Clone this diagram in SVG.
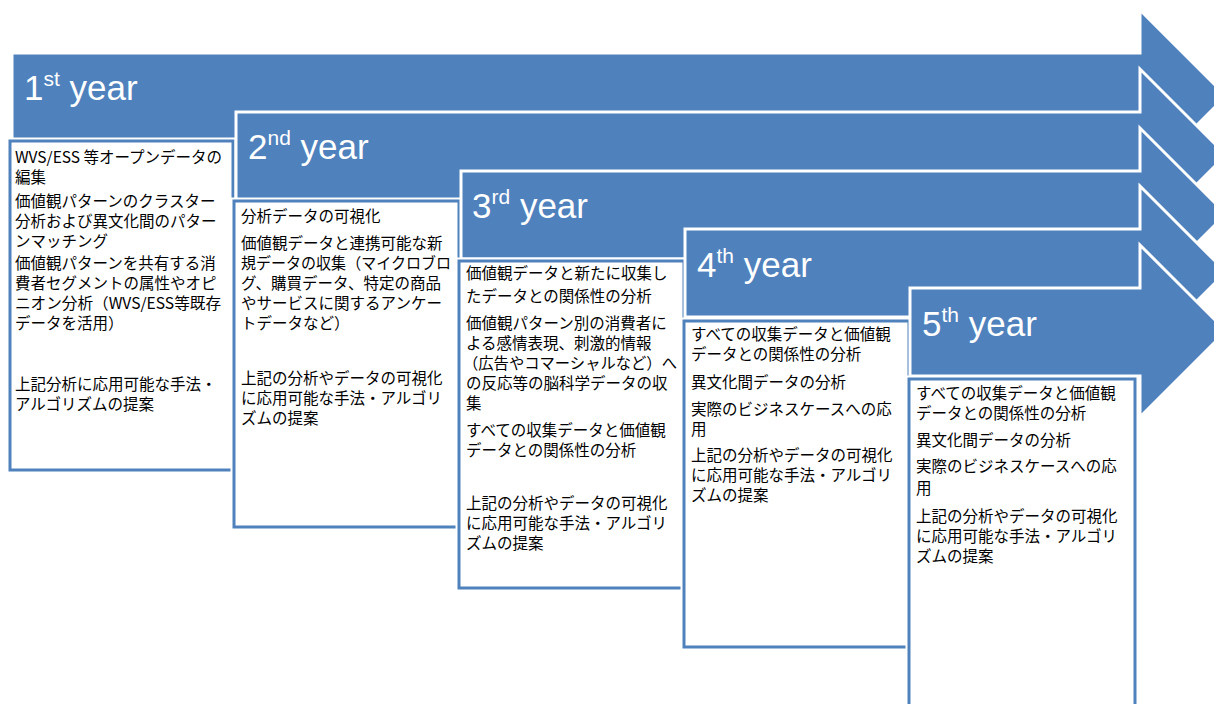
<svg xmlns="http://www.w3.org/2000/svg" width="1214" height="704" viewBox="0 0 1214 704">
<style>
.arr{fill:#4F81BD;stroke:#fff;stroke-width:3;stroke-linejoin:miter}
.boxo{fill:none;stroke:#fff;stroke-width:7}
.box{fill:#fff;stroke:#4F81BD;stroke-width:3}
.hd{font-family:"Liberation Sans",Arial,sans-serif;font-size:35px;fill:#fff}
.sup{font-size:21px}
.bt{font-family:"Noto Sans CJK JP","Noto Sans",sans-serif;font-size:15.5px;fill:#000}
</style>
<rect width="1214" height="704" fill="#fff"/>
<g id="year1">
<path class="arr" d="M12,53 H1140 V10 L1226,96 L1140,182 V141 H12 Z"/>
<rect class="boxo" x="10" y="141" width="223" height="329"/>
<rect class="box" x="10" y="141" width="223" height="329"/>
<text class="hd" x="24" y="100">1<tspan class="sup" dy="-14">st</tspan><tspan dy="14"> year</tspan></text>
<text class="bt" x="15">
<tspan x="15" y="163">WVS/ESS 等オープンデータの</tspan>
<tspan x="15" y="183">編集</tspan>
<tspan x="15" y="207">価値観パターンのクラスター</tspan>
<tspan x="15" y="227">分析および異文化間のパター</tspan>
<tspan x="15" y="247">ンマッチング</tspan>
<tspan x="15" y="269">価値観パターンを共有する消</tspan>
<tspan x="15" y="289">費者セグメントの属性やオピ</tspan>
<tspan x="15" y="309" textLength="206" lengthAdjust="spacingAndGlyphs">ニオン分析（WVS/ESS等既存</tspan>
<tspan x="15" y="329">データを活用）</tspan>
<tspan x="15" y="390">上記分析に応用可能な手法・</tspan>
<tspan x="15" y="410">アルゴリズムの提案</tspan>
</text>
</g>
<g id="year2">
<path class="arr" d="M236,112 H1140 V69 L1226,155 L1140,241 V200 H236 Z"/>
<rect class="boxo" x="234" y="201" width="225" height="326"/>
<rect class="box" x="234" y="201" width="225" height="326"/>
<text class="hd" x="248" y="159">2<tspan class="sup" dy="-14">nd</tspan><tspan dy="14"> year</tspan></text>
<text class="bt" x="241">
<tspan x="241" y="222">分析データの可視化</tspan>
<tspan x="241" y="249">価値観データと連携可能な新</tspan>
<tspan x="241" y="269" textLength="210" lengthAdjust="spacingAndGlyphs">規データの収集（マイクロブロ</tspan>
<tspan x="241" y="289">グ、購買データ、特定の商品</tspan>
<tspan x="241" y="309">やサービスに関するアンケー</tspan>
<tspan x="241" y="329">トデータなど）</tspan>
<tspan x="241" y="384">上記の分析やデータの可視化</tspan>
<tspan x="241" y="404">に応用可能な手法・アルゴリ</tspan>
<tspan x="241" y="424">ズムの提案</tspan>
</text>
</g>
<g id="year3">
<path class="arr" d="M461,171 H1140 V128 L1226,214 L1140,300 V259 H461 Z"/>
<rect class="boxo" x="459" y="261" width="225" height="327"/>
<rect class="box" x="459" y="261" width="225" height="327"/>
<text class="hd" x="472" y="218">3<tspan class="sup" dy="-14">rd</tspan><tspan dy="14"> year</tspan></text>
<text class="bt" x="466">
<tspan x="466" y="279">価値観データと新たに収集し</tspan>
<tspan x="466" y="302">たデータとの関係性の分析</tspan>
<tspan x="466" y="329">価値観パターン別の消費者に</tspan>
<tspan x="466" y="349">よる感情表現、刺激的情報</tspan>
<tspan x="463" y="369" textLength="214" lengthAdjust="spacingAndGlyphs">（広告やコマーシャルなど）へ</tspan>
<tspan x="466" y="389">の反応等の脳科学データの収</tspan>
<tspan x="466" y="409">集</tspan>
<tspan x="466" y="436">すべての収集データと価値観</tspan>
<tspan x="466" y="456">データとの関係性の分析</tspan>
<tspan x="466" y="509">上記の分析やデータの可視化</tspan>
<tspan x="466" y="529">に応用可能な手法・アルゴリ</tspan>
<tspan x="466" y="549">ズムの提案</tspan>
</text>
</g>
<g id="year4">
<path class="arr" d="M685,229 H1140 V186 L1226,272 L1140,358 V317 H685 Z"/>
<rect class="boxo" x="684" y="321" width="225" height="326"/>
<rect class="box" x="684" y="321" width="225" height="326"/>
<text class="hd" x="697" y="277">4<tspan class="sup" dy="-14">th</tspan><tspan dy="14"> year</tspan></text>
<text class="bt" x="691">
<tspan x="691" y="340">すべての収集データと価値観</tspan>
<tspan x="691" y="360">データとの関係性の分析</tspan>
<tspan x="691" y="388">異文化間データの分析</tspan>
<tspan x="691" y="415">実際のビジネスケースへの応</tspan>
<tspan x="691" y="435">用</tspan>
<tspan x="691" y="461">上記の分析やデータの可視化</tspan>
<tspan x="691" y="481">に応用可能な手法・アルゴリ</tspan>
<tspan x="691" y="501">ズムの提案</tspan>
</text>
</g>
<g id="year5">
<path class="arr" d="M910,288 H1140 V245 L1226,331 L1140,417 V376 H910 Z"/>
<rect class="boxo" x="909" y="379" width="226" height="327"/>
<rect class="box" x="909" y="379" width="226" height="327"/>
<text class="hd" x="922" y="336">5<tspan class="sup" dy="-14">th</tspan><tspan dy="14"> year</tspan></text>
<text class="bt" x="916">
<tspan x="916" y="399">すべての収集データと価値観</tspan>
<tspan x="916" y="419">データとの関係性の分析</tspan>
<tspan x="916" y="446">異文化間データの分析</tspan>
<tspan x="916" y="472">実際のビジネスケースへの応</tspan>
<tspan x="916" y="494">用</tspan>
<tspan x="916" y="522">上記の分析やデータの可視化</tspan>
<tspan x="916" y="542">に応用可能な手法・アルゴリ</tspan>
<tspan x="916" y="562">ズムの提案</tspan>
</text>
</g>
</svg>
